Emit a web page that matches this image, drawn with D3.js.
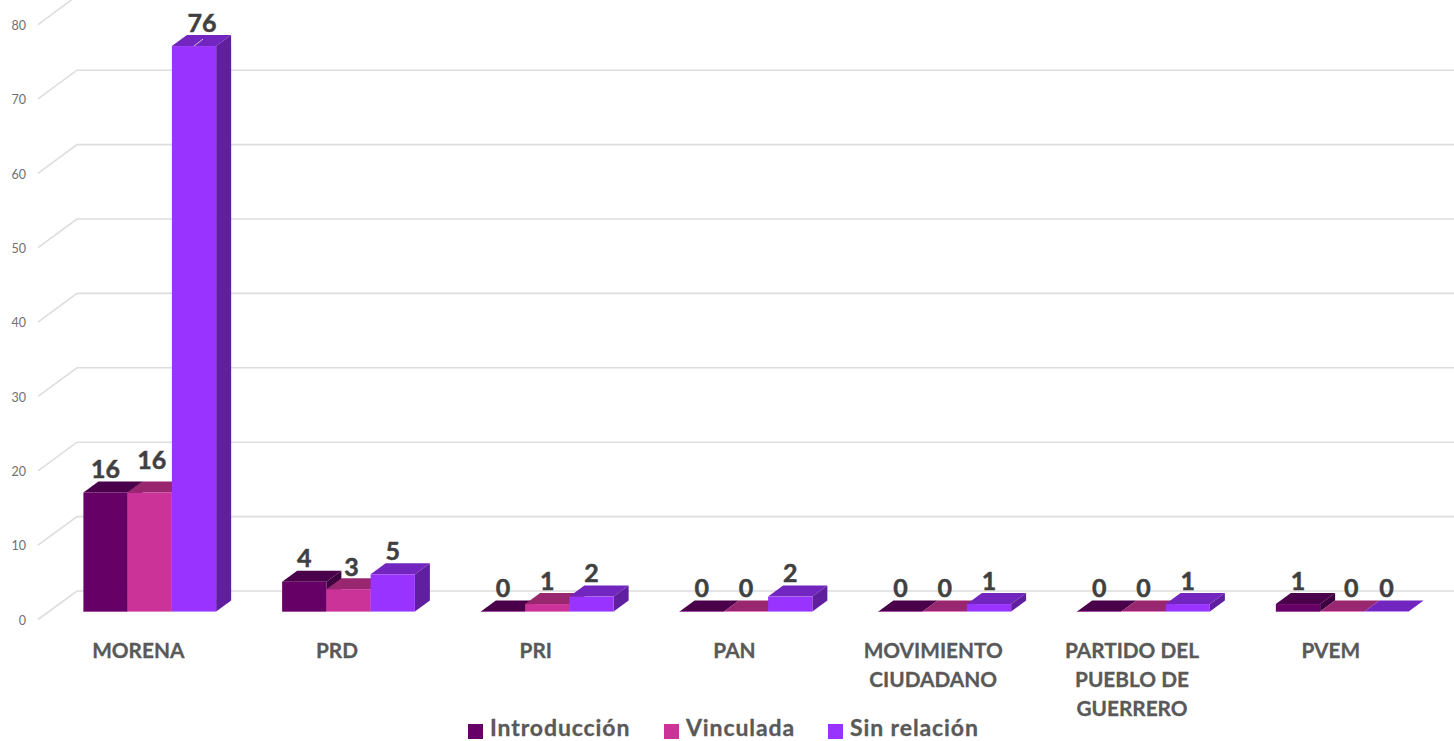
<!DOCTYPE html>
<html><head><meta charset="utf-8">
<script src="https://cdn.jsdelivr.net/npm/d3@7"></script>
<style>html,body{margin:0;padding:0;background:#fff;overflow:hidden}svg{display:block}text{font-family:Lato,"Open Sans",sans-serif}</style>
</head><body><svg id="c" width="1454" height="741"></svg>
<script>
const categories = [["MORENA"],["PRD"],["PRI"],["PAN"],["MOVIMIENTO","CIUDADANO"],["PARTIDO DEL","PUEBLO DE","GUERRERO"],["PVEM"]];
const seriesNames = ["Introducción","Vinculada","Sin relación"];
const introduccion = [16,4,0,0,0,0,1];
const vinculada = [16,3,1,0,0,0,0];
const sinRelacion = [76,5,2,2,1,1,0];
const yTicks = [0,10,20,30,40,50,60,70,80];
const seriesValues = [introduccion,vinculada,sinRelacion];

const front = ["#660066","#CC3399","#9933FF"], top_ = ["#4A004A","#99276F","#7326BF"], side = ["#3F003F","#7A1F59","#5F1F9F"], edge=["#A050A0","#E080C8","#C090FF"];
const svg = d3.select("#c");
const keys = categories.map(c=>c.join(" "));
const x0 = d3.scaleBand().domain(keys).range([50.4,1441.6]).paddingInner(0.332).paddingOuter(0.166);
const x1 = d3.scaleBand().domain(seriesNames).range([0,x0.bandwidth()]);
const yFront = d3.scaleLinear().domain([0,80]).range([611.5,16.3]);
const yBack = d3.scaleLinear().domain([0,80]).range([591,-4.2]);
const yWall = d3.scaleLinear().domain([0,80]).range([619.5,24.6]);
const dx=15, dy=-11, wallX0=38, wallX1=77;

// walls and gridlines
svg.append("g").selectAll("path").data(yTicks).join("path")
  .attr("d",t=>`M${wallX0},${yWall(t)}L${wallX1},${yBack(t)}L1454,${yBack(t)}`)
  .attr("fill","none").attr("stroke","#DDDDDD").attr("stroke-width",1.6);

// value axis
const ax = svg.append("g").attr("transform","translate(26,0.7)")
  .call(d3.axisLeft(yWall).tickValues(yTicks).tickSize(0).tickPadding(0));
ax.select(".domain").remove();
ax.selectAll("text").attr("font-size",12.5).attr("fill","#707070").style("font-family","Lato");

// bars
const bars = svg.append("g");
keys.forEach((k,i)=>seriesNames.forEach((s,j)=>{
  const v=seriesValues[j][i], l=x0(k)+x1(s), w=x1.bandwidth(), b=yFront(0), t=yFront(v);
  const g=bars.append("g");
  g.append("path").attr("d",`M${l},${t}L${l+dx},${t+dy}L${l+w+dx},${t+dy}L${l+w},${t}Z`).attr("fill",top_[j]);
  g.append("path").attr("d",`M${l+w},${t}L${l+w+dx},${t+dy}L${l+w+dx},${b+dy}L${l+w},${b}Z`).attr("fill",side[j]);
  if(v>0) g.append("rect").attr("x",l).attr("y",t).attr("width",w).attr("height",b-t).attr("fill",front[j]);
  g.append("line").attr("x1",l).attr("x2",l+w).attr("y1",b).attr("y2",b).attr("stroke",edge[j]).attr("stroke-width",1);
}));

// leader line on the tallest bar
const lx=x0(keys[0])+x1(seriesNames[2])+x1.bandwidth()/2;
svg.append("line").attr("x1",lx).attr("y1",yFront(76)).attr("x2",lx+9).attr("y2",yFront(76)-7).attr("stroke","#C8C8C8").attr("stroke-width",1);

// data labels (hand-placed nudges as in the source chart)
const nudge = {"0-1":[2,-9],"0-2":[8,0],"1-1":[3,1],"6-1":[9,0]};
const labels = svg.append("g");
keys.forEach((k,i)=>seriesNames.forEach((s,j)=>{
  const n=nudge[i+"-"+j]||[0,0], v=seriesValues[j][i];
  labels.append("text").text(v)
    .attr("x",x0(k)+x1(s)+x1.bandwidth()/2+n[0]).attr("y",yFront(v)-23+n[1])
    .attr("dy","0.35em").attr("text-anchor","middle").attr("font-size",25).attr("font-weight",700)
    .attr("fill","#404040").attr("stroke","#404040").attr("stroke-width",0.5);
}));

// category labels
const catG = svg.append("g");
categories.forEach((c,i)=>{
  const cx=x0(keys[i])+x0.bandwidth()/2-11.5;
  c.forEach((ln,m)=>catG.append("text").text(ln).attr("x",cx).attr("y",651+29*m).attr("dy","0.35em")
    .attr("text-anchor","middle").attr("font-size",20.8).attr("font-weight",700)
    .attr("fill","#595959").attr("stroke","#595959").attr("stroke-width",0.3));
});

// legend
const legX=[468,664,828];
const leg=svg.append("g");
seriesNames.forEach((s,j)=>{
  leg.append("rect").attr("x",legX[j]).attr("y",724).attr("width",15).attr("height",15).attr("fill",front[j]);
  leg.append("text").text(s).attr("x",legX[j]+22).attr("y",736.3).attr("font-size",23).attr("font-weight",700)
    .attr("letter-spacing",0.9).attr("fill","#595959").attr("stroke","#595959").attr("stroke-width",0.3);
});
</script></body></html>
